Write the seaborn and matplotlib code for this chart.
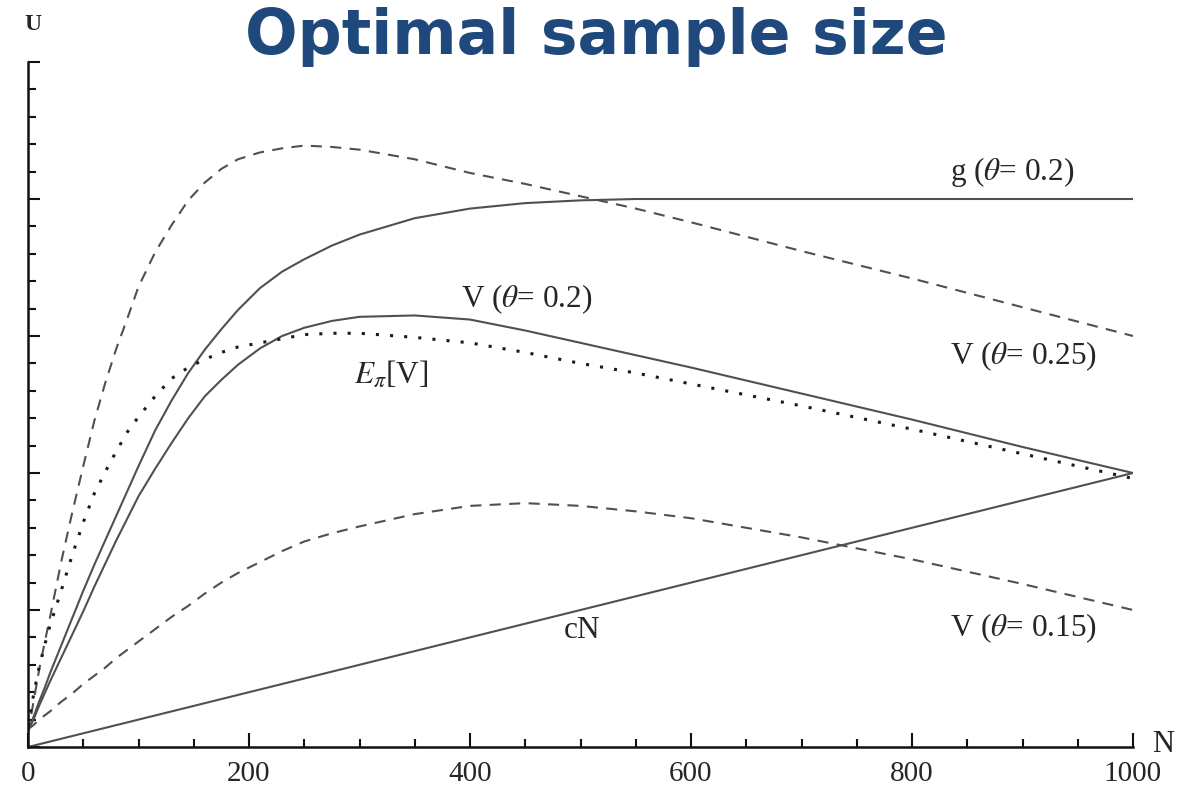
import matplotlib
matplotlib.use("Agg")
import matplotlib.pyplot as plt
import seaborn as sns
from matplotlib.ticker import MultipleLocator

# ---------------- data ----------------
N_grid = [0, 5, 10, 15, 20, 30, 40, 50, 60, 70, 80, 90, 100, 115, 130, 145, 160,
          175, 190, 210, 230, 250, 275, 300, 350, 400, 450, 500, 550, 600, 700,
          800, 900, 1000]
V_025 = [0.10, 0.33, 0.56, 0.76, 0.95, 1.35, 1.71, 2.05, 2.38, 2.66, 2.91, 3.13,
         3.36, 3.61, 3.81, 3.99, 4.12, 4.22, 4.29, 4.34, 4.37, 4.39, 4.38, 4.36,
         4.29, 4.19, 4.11, 4.02, 3.93, 3.83, 3.62, 3.42, 3.21, 3.00]
g_02 = [0.12, 0.22, 0.33, 0.43, 0.54, 0.74, 0.94, 1.14, 1.33, 1.51, 1.69, 1.87,
        2.05, 2.31, 2.53, 2.73, 2.90, 3.05, 3.19, 3.35, 3.47, 3.56, 3.66, 3.74,
        3.86, 3.93, 3.97, 3.99, 4.00, 4.00, 4.00, 4.00, 4.00, 4.00]
V_02 = [0.12, 0.20, 0.30, 0.39, 0.48, 0.65, 0.82, 0.99, 1.17, 1.34, 1.51, 1.67,
        1.83, 2.03, 2.22, 2.40, 2.56, 2.68, 2.79, 2.91, 3.00, 3.06, 3.11, 3.14,
        3.15, 3.12, 3.04, 2.95, 2.86, 2.77, 2.58, 2.39, 2.19, 2.00]
E_pi_V = [0.15, 0.38, 0.58, 0.74, 0.89, 1.14, 1.40, 1.64, 1.85, 2.01, 2.16, 2.30,
          2.41, 2.56, 2.69, 2.77, 2.83, 2.88, 2.92, 2.95, 2.98, 3.01, 3.02, 3.02,
          2.99, 2.95, 2.88, 2.80, 2.73, 2.65, 2.49, 2.32, 2.14, 1.96]
V_015 = [0.13, 0.16, 0.20, 0.23, 0.26, 0.33, 0.39, 0.46, 0.52, 0.58, 0.65, 0.71,
         0.77, 0.86, 0.95, 1.03, 1.12, 1.20, 1.27, 1.35, 1.43, 1.50, 1.56, 1.61,
         1.70, 1.76, 1.78, 1.76, 1.72, 1.67, 1.53, 1.37, 1.19, 1.00]
cN_N = [0, 1000]
cN_U = [0.0, 2.0]

x_ticks = [0, 200, 400, 600, 800, 1000]
x_tick_labels = ["0", "200", "400", "600", "800", "1000"]

# ---------------- style ----------------
sns.set_style("ticks")
plt.rcParams['font.family'] = ['Liberation Serif', 'DejaVu Serif']
plt.rcParams['mathtext.fontset'] = 'stix'
plt.rcParams['lines.scale_dashes'] = False

W, H = 1183, 788
fig = plt.figure(figsize=(W / 100, H / 100), dpi=100)
px_left, px_right, px_bottom, px_top = 28, 1133, 747, 62
ax = fig.add_axes([px_left / W, 1 - px_bottom / H,
                   (px_right - px_left) / W, (px_bottom - px_top) / H])

line_col = "#505050"
dash = (0, (8, 6))
dot = (0, (2.2, 8))

sns.lineplot(x=N_grid, y=V_025, ax=ax, color=line_col, linewidth=1.5, linestyle=dash, errorbar=None)
sns.lineplot(x=N_grid, y=g_02, ax=ax, color=line_col, linewidth=1.5, errorbar=None)
sns.lineplot(x=N_grid, y=V_02, ax=ax, color=line_col, linewidth=1.5, errorbar=None)
sns.lineplot(x=N_grid, y=E_pi_V, ax=ax, color="#1a1a1a", linewidth=2.2, linestyle=dot, errorbar=None)
sns.lineplot(x=N_grid, y=V_015, ax=ax, color=line_col, linewidth=1.5, linestyle=dash, errorbar=None)
sns.lineplot(x=cN_N, y=cN_U, ax=ax, color=line_col, linewidth=1.5, errorbar=None)

ax.set_xlim(0, 1000)
ax.set_ylim(0, 5)
for s in ["top", "right"]:
    ax.spines[s].set_visible(False)
for s in ["left", "bottom"]:
    ax.spines[s].set_linewidth(1.8)
    ax.spines[s].set_color("#111111")

ax.set_xticks(x_ticks)
ax.set_xticklabels(x_tick_labels)
ax.xaxis.set_minor_locator(MultipleLocator(50))
ax.yaxis.set_major_locator(MultipleLocator(1))
ax.yaxis.set_minor_locator(MultipleLocator(0.2))
ax.set_yticklabels([])
ax.tick_params(axis="x", which="major", direction="in", length=10, width=1.5,
               labelsize=21, pad=10, color="#111111")
ax.tick_params(axis="x", which="minor", direction="in", length=6, width=1.5, color="#111111")
ax.tick_params(axis="y", which="major", direction="in", length=8.5, width=1.5, color="#111111")
ax.tick_params(axis="y", which="minor", direction="in", length=5.5, width=1.5, color="#111111")
ax.set_xlabel("")
ax.set_ylabel("")

lab_fs = 22.5
ax.text(834, 4.2, r"g ($\theta$= 0.2)", fontsize=lab_fs, ha="left", va="center")
ax.text(834, 2.85, r"V ($\theta$= 0.25)", fontsize=lab_fs, ha="left", va="center")
ax.text(451, 3.27, r"V ($\theta$= 0.2)", fontsize=lab_fs, ha="center", va="center")
ax.text(329, 2.72, r"$E_\pi$[V]", fontsize=lab_fs, ha="center", va="center")
ax.text(834, 0.87, r"V ($\theta$= 0.15)", fontsize=lab_fs, ha="left", va="center")
ax.text(501, 0.85, "cN", fontsize=lab_fs, ha="center", va="center")

fig.text(33 / W, 1 - 25 / H, "U", fontsize=17, fontweight="bold", ha="center", va="center")
fig.text(1163 / W, 1 - 745 / H, "N", fontsize=22, ha="center", va="center")

fig.text(596 / W, 1 - 54 / H, "Optimal sample size", fontsize=44.5, fontweight="bold",
         color="#1f497d", ha="center", va="baseline", family=["DejaVu Sans"])

fig.savefig("out.png", dpi=100)
